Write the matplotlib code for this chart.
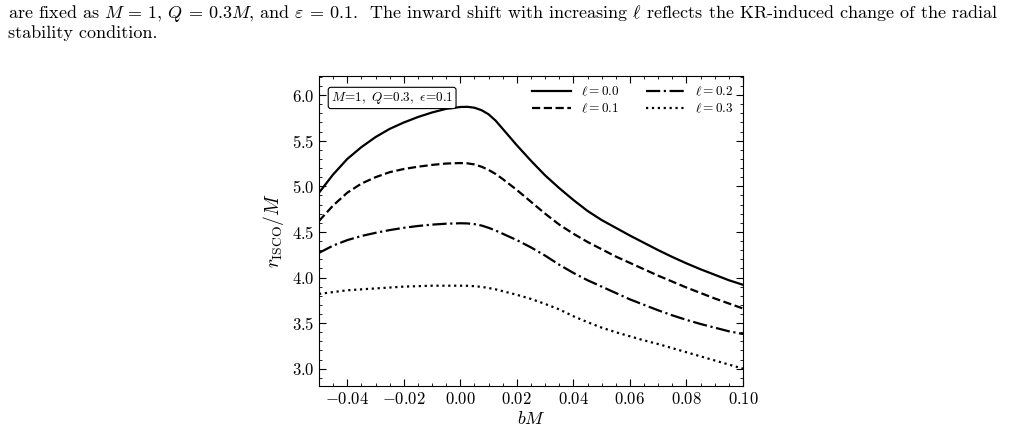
import matplotlib
matplotlib.use("Agg")
import matplotlib.pyplot as plt
from matplotlib.ticker import MultipleLocator

plt.rcParams['font.family'] = 'serif'
plt.rcParams['font.serif'] = ['cmr10']
plt.rcParams['mathtext.fontset'] = 'cm'
plt.rcParams['axes.formatter.use_mathtext'] = True

# ---- data ----
bM = [-0.05, -0.045, -0.04, -0.035, -0.03, -0.025, -0.02, -0.015, -0.01, -0.005,
      0.0, 0.0025, 0.005, 0.0075, 0.01, 0.0125, 0.015, 0.02, 0.025, 0.03, 0.035,
      0.04, 0.045, 0.05, 0.055, 0.06, 0.065, 0.07, 0.075, 0.08, 0.085, 0.09,
      0.095, 0.10]
r_l00 = [4.93, 5.13, 5.30, 5.43, 5.54, 5.63, 5.70, 5.76, 5.81, 5.85,
         5.87, 5.872, 5.862, 5.835, 5.79, 5.72, 5.63, 5.45, 5.28, 5.12, 4.98,
         4.85, 4.73, 4.63, 4.545, 4.46, 4.38, 4.30, 4.225, 4.155, 4.09, 4.03,
         3.97, 3.92]
r_l01 = [4.62, 4.79, 4.93, 5.03, 5.10, 5.155, 5.19, 5.215, 5.235, 5.25,
         5.255, 5.252, 5.24, 5.215, 5.18, 5.135, 5.08, 4.96, 4.83, 4.70, 4.58,
         4.48, 4.39, 4.31, 4.23, 4.16, 4.09, 4.02, 3.955, 3.89, 3.83, 3.77,
         3.715, 3.66]
r_l02 = [4.27, 4.35, 4.41, 4.455, 4.49, 4.52, 4.545, 4.565, 4.58, 4.59,
         4.595, 4.593, 4.585, 4.57, 4.545, 4.515, 4.48, 4.41, 4.33, 4.24, 4.14,
         4.05, 3.97, 3.90, 3.83, 3.76, 3.70, 3.64, 3.585, 3.535, 3.49, 3.45,
         3.41, 3.38]
r_l03 = [3.82, 3.84, 3.86, 3.87, 3.88, 3.89, 3.90, 3.905, 3.91, 3.91,
         3.91, 3.909, 3.905, 3.897, 3.885, 3.87, 3.85, 3.81, 3.765, 3.71, 3.65,
         3.575, 3.51, 3.45, 3.40, 3.355, 3.31, 3.27, 3.225, 3.18, 3.135, 3.09,
         3.045, 3.00]
series = [r_l00, r_l01, r_l02, r_l03]
labels = [r'$\ell=0.0$', r'$\ell=0.1$', r'$\ell=0.2$', r'$\ell=0.3$']
styles = ['-', '--', '-.', ':']

caption1 = (r'are fixed as $M$ = 1, $Q$ = 0.3$M$, and $\varepsilon$ = 0.1.  The inward shift with '
            r'increasing $\ell$ reflects the KR-induced change of the radial')
caption2 = 'stability condition.'

fig = plt.figure(figsize=(10.28, 4.30), dpi=100)
fig.text(8 / 1028, 1 - 18 / 430, caption1, fontsize=13, ha='left', va='baseline')
fig.text(8 / 1028, 1 - 38 / 430, caption2, fontsize=13, ha='left', va='baseline')

ax = fig.add_axes([319 / 1028, 1 - 386 / 430, 424 / 1028, 310 / 430])
for y, lab, ls in zip(series, labels, styles):
    ax.plot(bM, y, color='black', ls=ls, lw=1.6, label=lab)

ax.set_xlim(-0.05, 0.10)
ax.set_ylim(2.81, 6.21)
ax.xaxis.set_major_locator(MultipleLocator(0.02))
ax.xaxis.set_minor_locator(MultipleLocator(0.005))
ax.yaxis.set_major_locator(MultipleLocator(0.5))
ax.yaxis.set_minor_locator(MultipleLocator(0.1))
ax.tick_params(which='both', direction='in', top=True, right=True, labelsize=12)
ax.tick_params(which='major', length=5, width=0.8)
ax.tick_params(which='minor', length=2.5, width=0.6)
ax.set_xlabel(r'$bM$', fontsize=13, labelpad=2)
ax.set_ylabel(r'$r_{\rm ISCO}/M$', fontsize=14, labelpad=4)

ax.text(0.028, 0.955, r'$M\!=\!1,\ Q\!=\!0.3,\ \epsilon\!=\!0.1$', transform=ax.transAxes,
        fontsize=9.5, ha='left', va='top',
        bbox=dict(boxstyle='round,pad=0.2', fc='white', ec='black', lw=0.8))

ax.legend(loc='upper right', ncol=2, frameon=False, fontsize=9.5, handlelength=2.9,
          columnspacing=2.0, handletextpad=0.8, labelspacing=0.25,
          borderaxespad=0.3)

fig.savefig('out.png', dpi=100)
